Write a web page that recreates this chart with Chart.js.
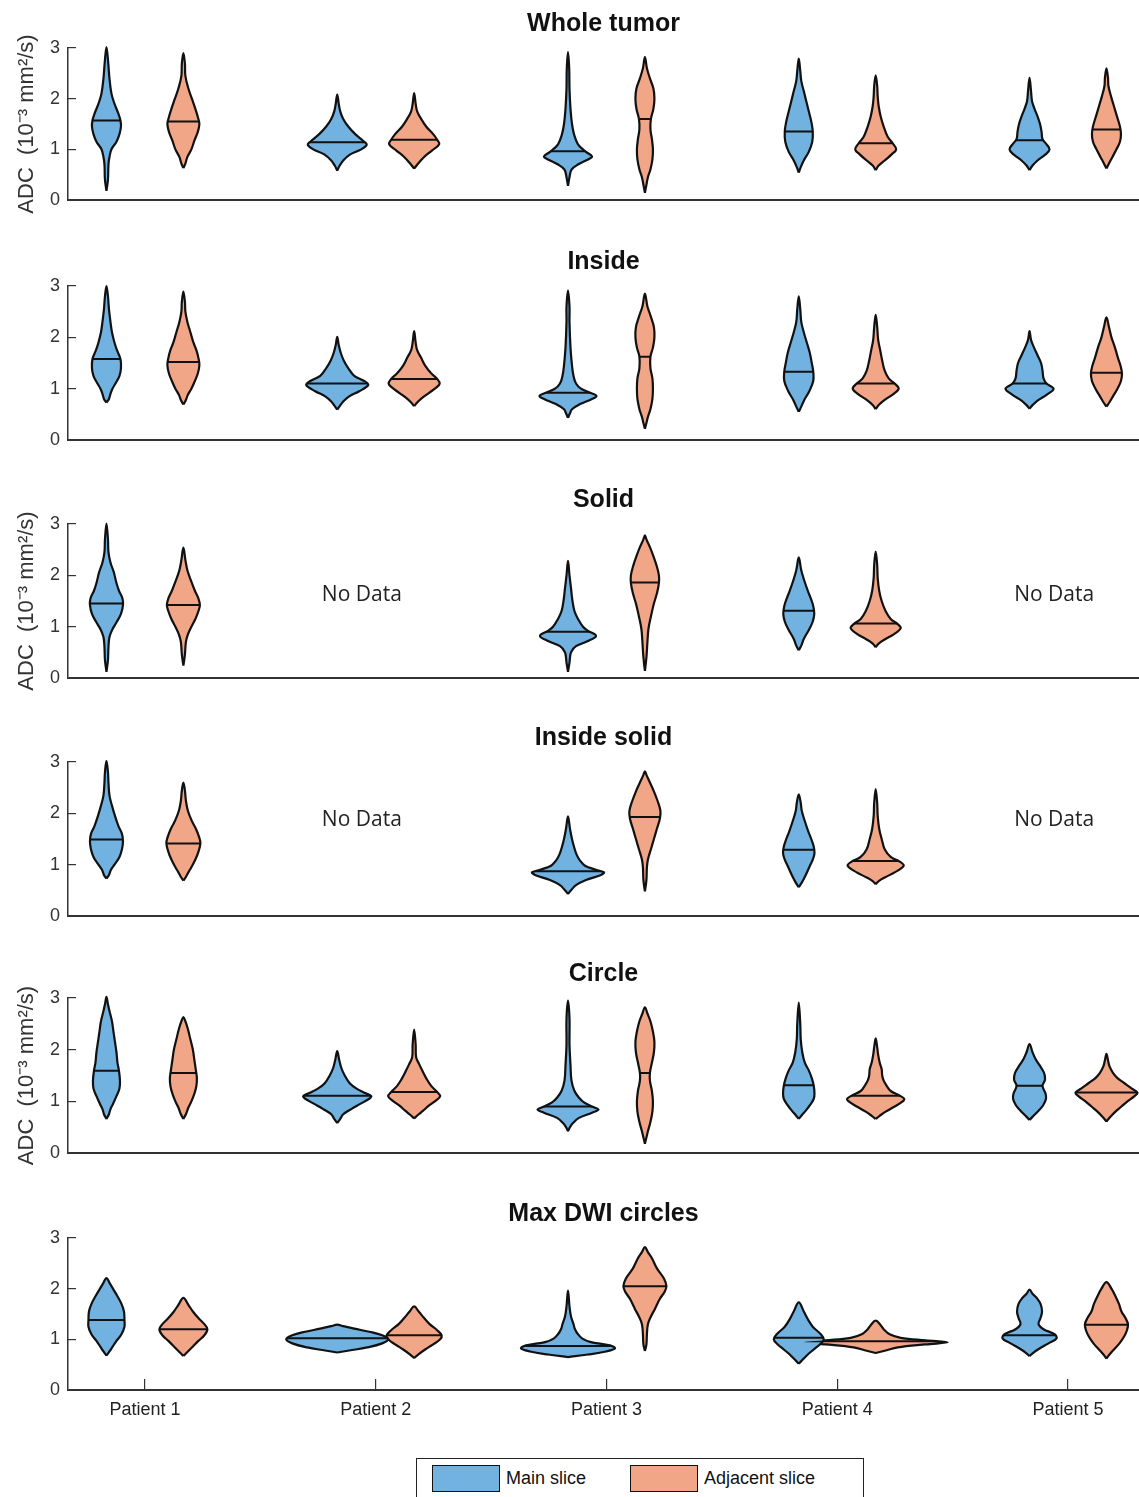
<!DOCTYPE html>
<html>
<head>
<meta charset="utf-8">
<script src="https://cdn.jsdelivr.net/npm/chart.js@4.4.1/dist/chart.umd.min.js"></script>
<style>
  html, body { margin: 0; padding: 0; background: #fff; width: 1139px; height: 1497px; overflow: hidden; }
  .panel { position: absolute; left: 0; }
  #legend { position: absolute; left: 416px; top: 1458px; width: 448px; height: 48px; border: 1px solid #222;
            box-sizing: border-box; background: #fff; font-family: 'Liberation Sans', Arial, sans-serif; font-size: 18px; color: #111; }
  .item { position: absolute; top: 6px; height: 27px; display: flex; align-items: center; }
  .patch { width: 68px; height: 27px; border: 1.8px solid #111; box-sizing: border-box; margin-right: 6px; }
</style>
</head>
<body>
<div id="root"></div>
<div id="legend"></div>
<script>
// ---------------- DATA ----------------
const PATIENTS = ['Patient 1', 'Patient 2', 'Patient 3', 'Patient 4', 'Patient 5'];
const SERIES = ['Main slice', 'Adjacent slice'];
const PANEL_TITLES = ['Whole tumor', 'Inside', 'Solid', 'Inside solid', 'Circle', 'Max DWI circles'];
const Y_TICKS = [0, 1, 2, 3];
const Y_TITLE = 'ADC  (10\u207B\u00B3 mm\u00B2/s)';
const NO_DATA_LABEL = 'No Data';
// [panel index, patient number, ADC level of the label]
const NO_DATA = [[2, 2, 1.62], [2, 5, 1.62], [3, 2, 1.87], [3, 5, 1.87]];

// Violin profiles: [ADC, density] from the bottom tip to the top tip; null = no data
const WHOLE_MAIN_MEDIAN = [1.57, 1.14, 0.96, 1.35, 1.18];
const WHOLE_ADJ_MEDIAN  = [1.55, 1.19, 1.60, 1.12, 1.39];
const WHOLE_MAIN = [
  [[0.18,0],[0.4,1.5],[0.7,2],[0.85,3],[1.0,5],[1.15,10],[1.3,13],[1.45,14.5],[1.57,14],[1.7,12],[1.9,8],[2.1,5],[2.4,3],[2.7,1.8],[3.02,0]],
  [[0.58,0],[0.68,2.5],[0.78,6],[0.9,13],[1.0,24],[1.09,29.5],[1.15,27],[1.3,18],[1.45,11],[1.6,6],[1.75,3],[1.9,1.5],[2.08,0]],
  [[0.28,0],[0.45,1.5],[0.6,3.5],[0.7,10],[0.8,20],[0.86,24],[0.95,18],[1.1,10],[1.3,6],[1.5,4],[1.8,2.5],[2.2,1.5],[2.6,1.2],[2.92,0]],
  [[0.54,0],[0.65,2],[0.78,5],[0.95,10],[1.15,13.5],[1.35,14],[1.55,12.5],[1.75,10],[1.95,7.5],[2.15,5],[2.35,2.5],[2.55,1.5],[2.79,0]],
  [[0.59,0],[0.68,3],[0.78,8],[0.9,16],[1.0,20],[1.1,17],[1.2,13],[1.35,12],[1.5,10.5],[1.65,8],[1.8,5],[1.95,2.5],[2.15,1.5],[2.41,0]]
];
const WHOLE_ADJ = [
  [[0.63,0],[0.72,2],[0.85,4],[1.0,8],[1.17,11],[1.35,14.5],[1.5,16],[1.6,15],[1.8,12],[2.0,8.5],[2.2,5],[2.45,2],[2.7,1.5],[2.9,0]],
  [[0.62,0],[0.72,4],[0.85,10],[0.98,18],[1.1,25],[1.19,23],[1.3,19],[1.45,12],[1.6,7],[1.75,3],[1.9,1.5],[2.11,0]],
  [[0.14,0],[0.3,1.5],[0.45,3],[0.6,5.5],[0.8,7.5],[1.0,8],[1.2,7],[1.4,5.5],[1.6,6],[1.8,8.5],[2.0,9.5],[2.2,8.5],[2.4,5],[2.6,2],[2.82,0]],
  [[0.59,0],[0.68,3],[0.78,9],[0.9,16],[1.0,20.5],[1.12,17],[1.25,12],[1.45,8],[1.65,5],[1.85,3],[2.05,2],[2.25,1.5],[2.46,0]],
  [[0.62,0],[0.72,2.5],[0.85,6],[1.0,10],[1.15,13.5],[1.3,14.5],[1.45,13.5],[1.65,10.5],[1.85,7.5],[2.05,4.5],[2.25,2],[2.42,1.5],[2.6,0]]
];

const INSIDE_MAIN_MEDIAN = [1.58, 1.10, 0.92, 1.33, 1.10];
const INSIDE_ADJ_MEDIAN  = [1.52, 1.19, 1.62, 1.10, 1.31];
const INSIDE_MAIN = [
  [[0.73,0],[0.8,2.5],[0.9,4],[1.0,6],[1.1,9],[1.25,13],[1.4,14.5],[1.58,14],[1.75,10.5],[1.9,8],[2.1,5.5],[2.3,4],[2.55,2.5],[2.8,1.5],[3.0,0]],
  [[0.59,0],[0.66,2.5],[0.75,6],[0.85,12],[0.95,22],[1.07,31],[1.15,27],[1.25,17],[1.4,11],[1.55,6.5],[1.7,3.5],[1.85,1.5],[2.01,0]],
  [[0.43,0],[0.52,2],[0.6,4],[0.7,12],[0.8,24],[0.86,28.5],[0.93,21],[1.0,13],[1.1,8],[1.25,5.5],[1.45,4],[1.8,2.5],[2.3,1.5],[2.6,1.5],[2.91,0]],
  [[0.55,0],[0.65,2.5],[0.78,5.5],[0.95,10.5],[1.15,14.5],[1.33,14.5],[1.5,13],[1.7,11],[1.9,8],[2.1,5],[2.3,2.5],[2.55,1.5],[2.8,0]],
  [[0.61,0],[0.68,3],[0.78,9],[0.88,17],[1.0,24],[1.1,17],[1.2,14],[1.35,13],[1.5,11.5],[1.65,8],[1.8,4.5],[1.95,1.5],[2.12,0]]
];
const INSIDE_ADJ = [
  [[0.69,0],[0.78,2.5],[0.88,4.5],[1.0,8],[1.15,11.5],[1.3,14.5],[1.46,16],[1.6,15],[1.75,13],[1.9,10],[2.1,7],[2.3,4],[2.5,2],[2.7,1.5],[2.89,0]],
  [[0.66,0],[0.73,3],[0.82,8],[0.92,15],[1.02,22],[1.1,25.5],[1.19,23],[1.3,17],[1.45,11],[1.6,7],[1.75,3],[1.9,1.5],[2.12,0]],
  [[0.22,0],[0.33,1.5],[0.45,3],[0.6,5.5],[0.8,7.5],[1.0,8],[1.2,7.5],[1.4,5.5],[1.62,5.5],[1.8,8],[2.0,9.5],[2.2,9],[2.4,6],[2.6,2.5],[2.85,0]],
  [[0.6,0],[0.68,3],[0.78,9],[0.9,18],[1.0,23],[1.1,19],[1.2,13],[1.35,9],[1.55,6.5],[1.75,4.5],[1.95,2.5],[2.2,1.5],[2.44,0]],
  [[0.65,0],[0.75,3.5],[0.85,6.5],[1.0,11],[1.15,14.5],[1.3,15.5],[1.45,14],[1.6,11.5],[1.8,8.5],[2.0,5],[2.2,2.5],[2.39,0]]
];

const SOLID_MAIN_MEDIAN = [1.45, null, 0.90, 1.31, null];
const SOLID_ADJ_MEDIAN  = [1.42, null, 1.86, 1.06, null];
const SOLID_MAIN = [
  [[0.12,0],[0.35,1.5],[0.6,2],[0.8,3],[0.95,6],[1.1,10.5],[1.25,14.5],[1.42,16.5],[1.55,16],[1.7,12.5],[1.85,10],[2.05,7.5],[2.25,4],[2.45,2],[2.7,1.5],[3.01,0]],
  null,
  [[0.12,0],[0.3,1.5],[0.5,3],[0.62,8],[0.72,20],[0.82,28],[0.92,20],[1.0,15],[1.15,10],[1.3,6.5],[1.5,4.5],[1.75,3],[2.0,1.5],[2.28,0]],
  [[0.54,0],[0.63,2.5],[0.76,5],[0.95,10.5],[1.1,14],[1.25,15.5],[1.4,14.5],[1.55,12],[1.7,9],[1.9,5.5],[2.1,2.5],[2.35,0]],
  null
];
const SOLID_ADJ = [
  [[0.24,0],[0.45,1.5],[0.7,2.5],[0.85,4.5],[1.0,8],[1.15,12],[1.3,15],[1.42,16.5],[1.55,15],[1.7,11.5],[1.9,7.5],[2.1,4],[2.3,2],[2.54,0]],
  null,
  [[0.14,0],[0.4,1.5],[0.7,2.5],[0.95,3.5],[1.2,6],[1.45,9],[1.65,12],[1.85,14],[2.0,14],[2.2,11.5],[2.4,8],[2.55,5],[2.7,1.5],[2.78,0]],
  [[0.6,0],[0.67,3],[0.75,9],[0.85,18],[0.97,25],[1.05,22],[1.15,15],[1.3,10],[1.5,6],[1.7,3.5],[1.95,2],[2.2,1.5],[2.46,0]],
  null
];

const INSIDE_SOLID_MAIN_MEDIAN = [1.49, null, 0.87, 1.29, null];
const INSIDE_SOLID_ADJ_MEDIAN  = [1.41, null, 1.93, 1.07, null];
const INSIDE_SOLID_MAIN = [
  [[0.73,0],[0.8,2.5],[0.9,4.5],[1.0,8],[1.15,13],[1.3,15.5],[1.45,16.5],[1.6,15.5],[1.75,12],[1.95,8.5],[2.15,5.5],[2.35,3],[2.6,2],[2.8,1.5],[3.02,0]],
  null,
  [[0.43,0],[0.5,3],[0.6,8],[0.7,18],[0.8,33],[0.85,36],[0.9,28],[0.98,17],[1.08,12],[1.2,8.5],[1.35,6],[1.5,4],[1.7,2],[1.94,0]],
  [[0.56,0],[0.65,3],[0.78,6.5],[0.95,10.5],[1.1,14],[1.22,15.7],[1.35,15],[1.5,12.5],[1.65,9.5],[1.85,6],[2.05,3],[2.2,2],[2.37,0]],
  null
];
const INSIDE_SOLID_ADJ = [
  [[0.69,0],[0.76,2.5],[0.85,5],[0.95,8],[1.1,12],[1.25,15],[1.42,17],[1.55,15.5],[1.7,12.5],[1.85,8.5],[2.05,4.5],[2.25,2.5],[2.45,1.5],[2.6,0]],
  null,
  [[0.48,0],[0.7,1.5],[0.95,2],[1.1,3],[1.3,6],[1.5,9],[1.7,12],[1.9,15],[2.05,15.5],[2.25,12.5],[2.45,8.5],[2.6,5],[2.75,1.5],[2.82,0]],
  [[0.62,0],[0.68,3],[0.75,9],[0.85,19],[0.98,28],[1.06,24],[1.15,15],[1.3,9],[1.5,6],[1.7,3.5],[1.95,2],[2.2,1.5],[2.47,0]],
  null
];

const CIRCLE_MAIN_MEDIAN = [1.59, 1.11, 0.90, 1.31, 1.30];
const CIRCLE_ADJ_MEDIAN  = [1.55, 1.18, 1.55, 1.11, 1.17];
const CIRCLE_MAIN = [
  [[0.66,0],[0.75,2.5],[0.85,4],[0.95,6.5],[1.1,10],[1.25,13],[1.4,13.5],[1.59,12.5],[1.75,11],[1.95,10],[2.15,8.5],[2.35,7],[2.55,5.5],[2.75,3],[2.88,1.5],[3.02,0]],
  [[0.58,0],[0.66,3],[0.75,6],[0.85,14],[0.95,23],[1.05,32],[1.1,34],[1.16,28],[1.25,19],[1.35,12.5],[1.5,7.5],[1.65,4],[1.8,2],[1.97,0]],
  [[0.42,0],[0.5,2],[0.58,5],[0.68,11],[0.78,24],[0.84,30.5],[0.9,24],[0.98,16],[1.07,11],[1.2,6.5],[1.4,3.5],[1.7,2.5],[2.1,1.5],[2.6,1.5],[2.95,0]],
  [[0.66,0],[0.73,3],[0.82,7],[0.92,11],[1.05,15],[1.15,15.7],[1.3,15],[1.45,13],[1.6,10],[1.75,6],[1.95,3.5],[2.2,2],[2.5,1.5],[2.91,0]],
  [[0.64,0],[0.72,4],[0.82,9],[0.92,13.5],[1.05,16.5],[1.15,16],[1.3,13],[1.42,15.5],[1.55,14.5],[1.7,10],[1.82,6],[1.95,3],[2.11,0]]
];
const CIRCLE_ADJ = [
  [[0.66,0],[0.75,2.5],[0.88,5],[1.0,8],[1.15,11],[1.3,13],[1.45,13.5],[1.6,12.5],[1.8,11],[2.0,9.5],[2.2,7],[2.4,4.5],[2.55,2],[2.63,0]],
  [[0.67,0],[0.74,4],[0.82,9],[0.92,15],[1.02,22],[1.1,26],[1.18,23],[1.3,17],[1.45,12],[1.6,8],[1.72,5],[1.85,2],[2.1,1.5],[2.39,0]],
  [[0.18,0],[0.3,1.5],[0.42,3],[0.6,5.5],[0.8,7.5],[1.0,8],[1.2,7],[1.4,5],[1.55,5],[1.75,7],[1.95,9],[2.15,9.5],[2.35,8],[2.55,5.5],[2.7,2.5],[2.82,0]],
  [[0.66,0],[0.72,4],[0.8,10],[0.9,19],[1.0,27],[1.05,28.5],[1.11,24],[1.2,15],[1.3,11],[1.4,8],[1.5,6.5],[1.62,6],[1.75,4],[1.9,2.5],[2.05,1.5],[2.22,0]],
  [[0.61,0],[0.7,4],[0.8,9],[0.9,15],[1.0,21],[1.1,28],[1.17,31],[1.25,25],[1.35,18],[1.45,11],[1.55,6.5],[1.68,3],[1.8,1.5],[1.92,0]]
];

const MAXDWI_MAIN_MEDIAN = [1.38, 1.02, 0.87, 1.03, 1.08];
const MAXDWI_ADJ_MEDIAN  = [1.20, 1.08, 2.05, 0.96, 1.29];
const MAXDWI_MAIN = [
  [[0.68,0],[0.76,3],[0.85,6],[0.97,10],[1.1,15],[1.25,18],[1.38,18],[1.55,17.5],[1.7,15],[1.85,11],[2.0,6.5],[2.1,3.5],[2.21,0]],
  [[0.74,0],[0.78,12],[0.84,30],[0.92,45],[1.0,51],[1.08,45],[1.15,32],[1.21,17],[1.26,6],[1.29,0]],
  [[0.65,0],[0.7,20],[0.76,38],[0.82,47],[0.88,42],[0.95,22],[1.02,14],[1.1,10],[1.2,7],[1.3,5.5],[1.45,3],[1.65,1.5],[1.96,0]],
  [[0.52,0],[0.6,4],[0.7,9],[0.8,15],[0.9,21],[1.0,25],[1.1,22],[1.25,14],[1.4,9],[1.55,5],[1.73,0]],
  [[0.67,0],[0.74,4],[0.82,10],[0.92,19],[1.02,27],[1.1,25],[1.2,14],[1.3,9],[1.42,11],[1.55,12.5],[1.7,11],[1.82,7],[1.9,3],[1.98,0]]
];
const MAXDWI_ADJ = [
  [[0.67,0],[0.75,4],[0.85,9],[0.97,15],[1.08,21],[1.2,24],[1.3,21],[1.42,15],[1.55,9.5],[1.68,5],[1.82,0]],
  [[0.63,0],[0.7,4],[0.8,11],[0.9,19],[1.0,26],[1.08,27.5],[1.18,23],[1.3,15.5],[1.42,10],[1.55,4.5],[1.65,0]],
  [[0.77,0],[0.9,1.5],[1.1,2],[1.3,3],[1.45,6],[1.6,10],[1.8,15],[1.95,20],[2.05,21.5],[2.2,19],[2.4,12],[2.6,7],[2.72,3],[2.82,0]],
  [[0.73,0],[0.78,10],[0.84,22],[0.9,50],[0.94,72],[0.98,50],[1.03,25],[1.1,14],[1.2,8],[1.28,5],[1.37,0]],
  [[0.62,0],[0.7,3],[0.8,7.5],[0.92,13],[1.05,17.5],[1.18,20.5],[1.3,21.5],[1.42,19],[1.55,15],[1.7,12.5],[1.85,9],[2.0,5],[2.13,0]]
];

// ---------------- STYLE / LAYOUT ----------------
const FONT = "'Liberation Sans', Arial, Helvetica, sans-serif";
const FILL = ['#72b2e0', '#f1a687'];
const EDGE = '#111111';
const AXIS = '#333333';
const DENSITY_TO_X = 1 / 230.75;   // density units -> x-axis units
const SLICE_OFFSET = 1 / 6;        // main slice left, adjacent slice right of each patient
const X_MIN = 2 / 3, X_MAX = 5.3077;
const PLOT_TOP    = [48, 286, 524, 762, 998, 1238];
const PLOT_BOTTOM = [200, 440, 678, 916, 1153, 1390];
const SHOW_Y_TITLE = [true, false, true, false, true, false];
const TITLE_AREA = 48;

const PANELS = [
  { main: WHOLE_MAIN, mainMed: WHOLE_MAIN_MEDIAN, adj: WHOLE_ADJ, adjMed: WHOLE_ADJ_MEDIAN },
  { main: INSIDE_MAIN, mainMed: INSIDE_MAIN_MEDIAN, adj: INSIDE_ADJ, adjMed: INSIDE_ADJ_MEDIAN },
  { main: SOLID_MAIN, mainMed: SOLID_MAIN_MEDIAN, adj: SOLID_ADJ, adjMed: SOLID_ADJ_MEDIAN },
  { main: INSIDE_SOLID_MAIN, mainMed: INSIDE_SOLID_MAIN_MEDIAN, adj: INSIDE_SOLID_ADJ, adjMed: INSIDE_SOLID_ADJ_MEDIAN },
  { main: CIRCLE_MAIN, mainMed: CIRCLE_MAIN_MEDIAN, adj: CIRCLE_ADJ, adjMed: CIRCLE_ADJ_MEDIAN },
  { main: MAXDWI_MAIN, mainMed: MAXDWI_MAIN_MEDIAN, adj: MAXDWI_ADJ, adjMed: MAXDWI_ADJ_MEDIAN }
];

Chart.defaults.font.family = FONT;

function outline(center, profile) {
  const right = profile.map(([v, d]) => ({ x: center + d * DENSITY_TO_X, y: v }));
  const left = profile.slice().reverse().map(([v, d]) => ({ x: center - d * DENSITY_TO_X, y: v }));
  left.shift();
  return right.concat(left);
}

function buildDatasets(p) {
  const out = [];
  [[p.main, p.mainMed, 0], [p.adj, p.adjMed, 1]].forEach(([dens, med, s]) => {
    dens.forEach((prof, i) => {
      if (!prof) return;
      const center = i + 1 + (s === 0 ? -SLICE_OFFSET : SLICE_OFFSET);
      out.push({
        label: SERIES[s] + ' / ' + PATIENTS[i],
        data: outline(center, prof),
        median: med[i],
        center: center,
        backgroundColor: FILL[s],
        borderColor: EDGE,
        borderWidth: 2.2,
        borderJoinStyle: 'round',
        fill: 'shape',
        tension: 0.38,
        pointRadius: 0,
        clip: false
      });
    });
  });
  return out;
}

const medianPlugin = {
  id: 'medianLines',
  afterDatasetsDraw(chart) {
    const ctx = chart.ctx, xs = chart.scales.x, ys = chart.scales.y;
    chart.data.datasets.forEach((ds, i) => {
      if (ds.median == null) return;
      const line = chart.getDatasetMeta(i).dataset;
      if (!line || typeof line.path !== 'function') return;
      ctx.save();
      ctx.beginPath();
      line.path(ctx);
      ctx.closePath();
      ctx.clip();
      const py = ys.getPixelForValue(ds.median);
      ctx.beginPath();
      ctx.moveTo(xs.getPixelForValue(ds.center - 0.5), py);
      ctx.lineTo(xs.getPixelForValue(ds.center + 0.5), py);
      ctx.strokeStyle = EDGE;
      ctx.lineWidth = 2;
      ctx.stroke();
      ctx.restore();
    });
  }
};

const noDataPlugin = {
  id: 'noData',
  afterDraw(chart, args, opts) {
    const ctx = chart.ctx, xs = chart.scales.x, ys = chart.scales.y;
    NO_DATA.filter(n => n[0] === opts.panel).forEach(([_, patient, adc]) => {
      ctx.save();
      ctx.font = "21px 'Open Sans', 'Noto Sans', sans-serif";
      ctx.fillStyle = '#222';
      ctx.textAlign = 'center';
      ctx.textBaseline = 'middle';
      ctx.fillText(NO_DATA_LABEL, xs.getPixelForValue(patient - 0.06), ys.getPixelForValue(adc));
      ctx.restore();
    });
  }
};

const root = document.getElementById('root');
PANELS.forEach((p, k) => {
  const isLast = k === PANELS.length - 1;
  const bottomH = isLast ? 45 : 30;
  const plotH = PLOT_BOTTOM[k] - PLOT_TOP[k];
  const H = TITLE_AREA + plotH + bottomH;
  const wrap = document.createElement('div');
  wrap.className = 'panel';
  wrap.style.top = (PLOT_TOP[k] - TITLE_AREA) + 'px';
  const cv = document.createElement('canvas');
  cv.width = 1139; cv.height = H;
  cv.style.width = '1139px'; cv.style.height = H + 'px';
  wrap.appendChild(cv);
  root.appendChild(wrap);

  new Chart(cv, {
    type: 'line',
    data: { datasets: buildDatasets(p) },
    options: {
      responsive: false,
      animation: false,
      devicePixelRatio: 1,
      events: [],
      layout: { padding: 0 },
      plugins: {
        legend: { display: false },
        tooltip: { enabled: false },
        title: {
          display: true, text: PANEL_TITLES[k], fullSize: false,
          color: '#111', padding: { top: 10, bottom: 10 },
          font: { family: FONT, size: 25, weight: 'bold', lineHeight: '28px' }
        },
        noData: { panel: k }
      },
      scales: {
        x: {
          type: 'linear', min: X_MIN, max: X_MAX,
          afterBuildTicks: s => { s.ticks = PATIENTS.map((_, i) => ({ value: i + 1 })); },
          afterFit: s => { s.height = bottomH; },
          ticks: {
            display: isLast, autoSkip: false, maxRotation: 0, padding: 20,
            color: '#222', font: { family: FONT, size: 18 },
            callback: (v, i) => PATIENTS[i]
          },
          grid: { display: isLast, drawOnChartArea: false, drawTicks: true, tickLength: -11, color: AXIS, lineWidth: 1.2 },
          border: { display: true, color: AXIS, width: 2 }
        },
        y: {
          min: 0, max: 3,
          afterBuildTicks: s => { s.ticks = Y_TICKS.map(v => ({ value: v })); },
          afterFit: s => { s.width = 68; },
          ticks: { color: '#333', padding: 16, font: { family: FONT, size: 18 } },
          grid: { drawOnChartArea: false, drawTicks: true, tickLength: -8, color: AXIS, lineWidth: 1.2 },
          border: { display: true, color: AXIS, width: 1.5 },
          title: {
            display: SHOW_Y_TITLE[k], text: Y_TITLE, color: '#333',
            font: { family: FONT, size: 22 }, padding: { top: 14, bottom: 0 }
          }
        }
      }
    },
    plugins: [medianPlugin, noDataPlugin]
  });
});

// Legend (HTML, real text)
const legend = document.getElementById('legend');
const LEGEND_LEFT = [15, 213];
SERIES.forEach((name, s) => {
  const it = document.createElement('div');
  it.className = 'item';
  it.style.left = LEGEND_LEFT[s] + 'px';
  const patch = document.createElement('span');
  patch.className = 'patch';
  patch.style.background = FILL[s];
  const txt = document.createElement('span');
  txt.textContent = name;
  it.appendChild(patch); it.appendChild(txt);
  legend.appendChild(it);
});
</script>
</body>
</html>
